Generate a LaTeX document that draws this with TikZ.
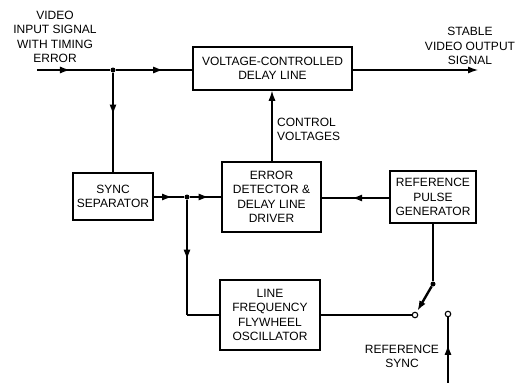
\documentclass[tikz,border=0pt]{standalone}
\usepackage{fontspec}
\setmainfont{Liberation Sans}
\usetikzlibrary{arrows.meta,decorations.markings}
\tikzset{
  blk/.style={draw, line width=1.5pt, align=center, inner sep=0pt, font=\fontsize{12}{14.5}\selectfont},
  lbl/.style={align=center, inner sep=0pt, font=\fontsize{12}{14.5}\selectfont},
  wire/.style={line width=1.2pt},
  tip/.style={-{Latex[length=10pt,width=7pt]}},
  midarr/.style={postaction={decorate}, decoration={markings, mark=at position #1 with {\arrow{Latex[length=10pt,width=7pt]}}}},
  dotn/.style={circle, fill=black, inner sep=0pt, minimum size=5pt},
  opn/.style={circle, draw, fill=white, line width=1.1pt, inner sep=0pt, minimum size=5.5pt},
}
\begin{document}
\begin{tikzpicture}[x=1pt,y=-1pt]
\useasboundingbox (0,0) rectangle (523,383);
% blocks
\node[blk, minimum width=159pt, minimum height=43pt] (vcdl) at (272.5,68.5) {VOLTAGE-CONTROLLED\\DELAY LINE};
\node[blk, minimum width=80pt, minimum height=47pt] (sync) at (113,196.5) {SYNC\\SEPARATOR};
\node[blk, minimum width=99pt, minimum height=70pt] (ed) at (271.5,197) {ERROR\\DETECTOR \&\\DELAY LINE\\DRIVER};
\node[blk, minimum width=86pt, minimum height=52pt] (rpg) at (433,197) {REFERENCE\\PULSE\\GENERATOR};
\node[blk, minimum width=100pt, minimum height=70pt] (lffo) at (270,315) {LINE\\FREQUENCY\\FLYWHEEL\\OSCILLATOR};
% labels
\node[lbl] (inlbl) at (55,37) {VIDEO\\INPUT SIGNAL\\WITH TIMING\\ERROR};
\node[lbl] (outlbl) at (470,46) {STABLE\\VIDEO OUTPUT\\SIGNAL};
\node[lbl, align=left, anchor=west] (ctl) at (277,129.5) {CONTROL\\VOLTAGES};
\node[lbl] (rslbl) at (402,356.5) {REFERENCE\\SYNC};
% coordinates / junctions
\coordinate (inL) at (37,70);
\node[dotn] (j1) at (113,70) {};
\coordinate (outR) at (478,70);
\node[dotn] (j2) at (187,197) {};
\coordinate (c2) at (187,315);
\node[dotn] (swp) at (433,284) {};
\node[opn] (s1) at (415,315) {};
\node[opn] (s2) at (448,314) {};
\coordinate (rsB) at (448,383);
% connectors
\draw[wire, midarr=0.45] (inL) -- (j1);
\draw[wire, midarr=0.62] (j1) -- (vcdl.west |- j1);
\draw[wire, tip] (vcdl.east |- outR) -- (outR);
\draw[wire, midarr=0.42] (j1) -- (sync.north);
\draw[wire, midarr=0.6] (sync.east |- j2) -- (j2);
\draw[wire, midarr=0.6] (j2) -- (ed.west |- j2);
\draw[wire, midarr=0.52] (j2) -- (c2);
\draw[wire] (c2) -- (lffo.west |- c2);
\draw[wire, tip] (ed.north -| 272,0) -- (vcdl.south -| 272,0);
\draw[wire, midarr=0.55] (rpg.west |- 0,198) -- (ed.east |- 0,198);
\draw[wire] (rpg.south) -- (swp);
\draw[line width=2.4pt, tip, shorten >=1.5pt] (swp) -- (s1);
\draw[wire] (lffo.east |- s1) -- (s1.west);
\draw[wire, midarr=0.58] (rsB) -- (s2.south);
\end{tikzpicture}
\end{document}
